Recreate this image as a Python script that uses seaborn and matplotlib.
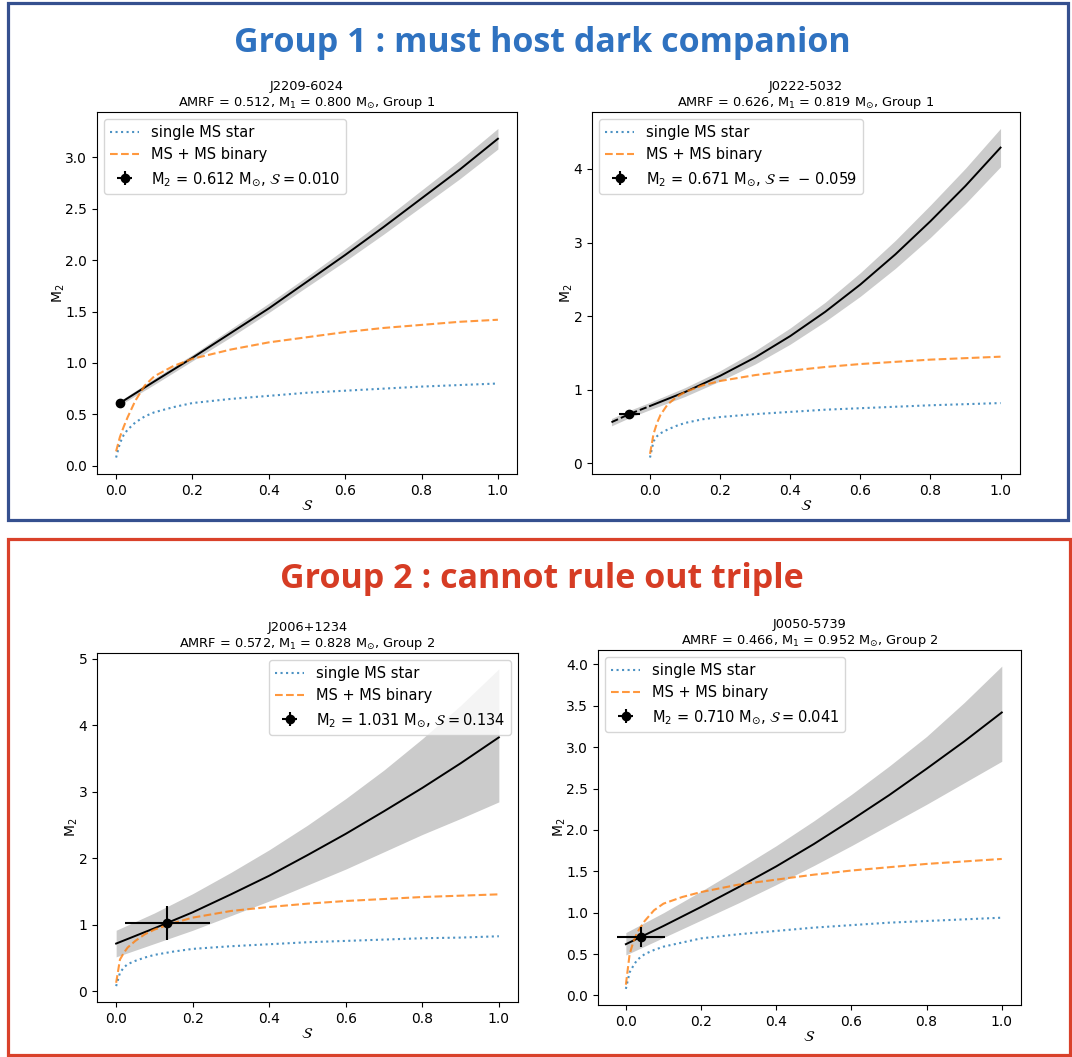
import numpy as np
import seaborn as sns
import matplotlib.pyplot as plt
from matplotlib.patches import Rectangle

W, H = 1072, 1057

# S grid used for the two MS tracks
s_track = [0.0, 0.01, 0.02, 0.03, 0.05, 0.075, 0.1, 0.15, 0.2, 0.3, 0.4, 0.5, 0.6, 0.7, 0.8, 0.9, 1.0]

names = ["J2209-6024", "J0222-5032", "J2006+1234", "J0050-5739"]
amrf = ["0.512", "0.626", "0.572", "0.466"]
m1 = ["0.800", "0.819", "0.828", "0.952"]
groups = [1, 1, 2, 2]

single_ms = [
    [0.08, 0.22, 0.30, 0.35, 0.42, 0.48, 0.52, 0.57, 0.61, 0.65, 0.68, 0.71, 0.73, 0.75, 0.77, 0.785, 0.80],
    [0.08, 0.30, 0.37, 0.41, 0.46, 0.51, 0.55, 0.60, 0.63, 0.67, 0.70, 0.73, 0.75, 0.77, 0.79, 0.805, 0.82],
    [0.08, 0.28, 0.36, 0.41, 0.46, 0.51, 0.55, 0.60, 0.64, 0.68, 0.71, 0.74, 0.76, 0.78, 0.80, 0.81, 0.83],
    [0.08, 0.28, 0.36, 0.43, 0.50, 0.55, 0.59, 0.64, 0.69, 0.74, 0.78, 0.82, 0.85, 0.88, 0.90, 0.92, 0.94],
]
binary_ms = [
    [0.14, 0.28, 0.38, 0.47, 0.63, 0.78, 0.87, 0.97, 1.04, 1.13, 1.20, 1.25, 1.30, 1.34, 1.37, 1.40, 1.42],
    [0.13, 0.40, 0.55, 0.66, 0.80, 0.90, 0.97, 1.06, 1.12, 1.20, 1.26, 1.31, 1.35, 1.38, 1.41, 1.43, 1.45],
    [0.13, 0.48, 0.58, 0.66, 0.76, 0.86, 0.93, 1.03, 1.11, 1.21, 1.27, 1.32, 1.36, 1.39, 1.42, 1.44, 1.46],
    [0.13, 0.50, 0.65, 0.76, 0.90, 1.03, 1.11, 1.19, 1.25, 1.34, 1.40, 1.46, 1.51, 1.55, 1.59, 1.62, 1.65],
]

# M2(S) relation with its band
s_rel = [
    [0.01, 0.1, 0.2, 0.3, 0.4, 0.5, 0.6, 0.7, 0.8, 0.9, 1.0],
    [-0.11, -0.059, 0.0, 0.1, 0.2, 0.3, 0.4, 0.5, 0.6, 0.7, 0.8, 0.9, 1.0],
    [0.0, 0.1, 0.2, 0.3, 0.4, 0.5, 0.6, 0.7, 0.8, 0.9, 1.0],
    [0.0, 0.1, 0.2, 0.3, 0.4, 0.5, 0.6, 0.7, 0.8, 0.9, 1.0],
]
m2_rel = [
    [0.61, 0.82, 1.05, 1.29, 1.53, 1.79, 2.05, 2.32, 2.60, 2.88, 3.18],
    [0.56, 0.67, 0.78, 0.97, 1.19, 1.44, 1.73, 2.06, 2.43, 2.84, 3.29, 3.77, 4.29],
    [0.72, 0.95, 1.19, 1.46, 1.74, 2.05, 2.37, 2.71, 3.06, 3.43, 3.82],
    [0.62, 0.84, 1.07, 1.31, 1.56, 1.83, 2.12, 2.42, 2.74, 3.07, 3.42],
]
m2_lo = [
    [0.59, 0.79, 1.02, 1.25, 1.49, 1.74, 1.99, 2.25, 2.52, 2.79, 3.08],
    [0.51, 0.62, 0.73, 0.91, 1.12, 1.35, 1.62, 1.93, 2.27, 2.65, 3.07, 3.53, 4.03],
    [0.52, 0.72, 0.92, 1.14, 1.36, 1.60, 1.84, 2.10, 2.36, 2.60, 2.85],
    [0.49, 0.70, 0.91, 1.12, 1.34, 1.57, 1.81, 2.06, 2.31, 2.57, 2.83],
]
m2_hi = [
    [0.63, 0.85, 1.08, 1.33, 1.58, 1.84, 2.11, 2.39, 2.68, 2.97, 3.28],
    [0.61, 0.72, 0.83, 1.03, 1.26, 1.53, 1.84, 2.19, 2.59, 3.03, 3.51, 4.01, 4.55],
    [0.92, 1.18, 1.47, 1.79, 2.13, 2.50, 2.90, 3.33, 3.80, 4.30, 4.85],
    [0.76, 1.00, 1.26, 1.53, 1.81, 2.11, 2.43, 2.77, 3.13, 3.54, 3.98],
]

# measured points
pt_s = [0.010, -0.059, 0.134, 0.041]
pt_m2 = [0.612, 0.671, 1.031, 0.710]
pt_serr = [0.006, 0.03, 0.112, 0.064]
pt_m2err = [0.02, 0.03, 0.26, 0.12]
pt_s_text = ["0.010", r"\,-\,0.059", "0.134", "0.041"]

legend_loc = ["upper left", "upper left", "upper right", "upper left"]
# axes boxes in pixels: left, top, right, bottom
boxes = [(97, 112, 517, 474), (592, 112, 1020, 474), (97, 653, 518, 1002), (598, 650, 1021, 1005)]

fig = plt.figure(figsize=(W / 100, H / 100), dpi=100)

# group frames
fig.patches.append(Rectangle((7.5 / W, 1 - 520 / H), 1060 / W, 517 / H, transform=fig.transFigure,
                             fill=False, ec="#35508f", lw=2.3))
fig.patches.append(Rectangle((7.5 / W, 1 - 1055 / H), 1062 / W, 516 / H, transform=fig.transFigure,
                             fill=False, ec="#d9412a", lw=2.3))
fig.text(542 / W, 1 - 43 / H, "Group 1 : must host dark companion", ha="center", va="center",
         fontsize=24.5, fontweight="bold", color="#2f72c0", family="Open Sans")
fig.text(542 / W, 1 - 579 / H, "Group 2 : cannot rule out triple", ha="center", va="center",
         fontsize=24.5, fontweight="bold", color="#d63c24", family="Open Sans")

for i in range(4):
    l, t, r, b = boxes[i]
    ax = fig.add_axes([l / W, 1 - b / H, (r - l) / W, (b - t) / H])

    ax.fill_between(s_rel[i], m2_lo[i], m2_hi[i], color="#cbcbcb", lw=0)
    if s_rel[i][0] < 0:
        # extrapolated part drawn dashed
        sns.lineplot(x=s_rel[i][:3], y=m2_rel[i][:3], ax=ax, color="k", lw=1.4, linestyle="--")
        sns.lineplot(x=s_rel[i][2:], y=m2_rel[i][2:], ax=ax, color="k", lw=1.4)
    else:
        sns.lineplot(x=s_rel[i], y=m2_rel[i], ax=ax, color="k", lw=1.4)

    sns.lineplot(x=s_track, y=single_ms[i], ax=ax, color="C0", lw=1.5, linestyle=":", alpha=0.8,
                 label="single MS star")
    sns.lineplot(x=s_track, y=binary_ms[i], ax=ax, color="C1", lw=1.5, linestyle="--", alpha=0.8,
                 label="MS + MS binary")
    ax.errorbar(pt_s[i], pt_m2[i], xerr=pt_serr[i], yerr=pt_m2err[i], fmt="o", color="k",
                ms=6, elinewidth=1.5,
                label=r"M$_2$ = %.3f M$_{\odot}$, $\mathcal{S} = %s$" % (pt_m2[i], pt_s_text[i]))

    ax.legend(loc=legend_loc[i], fontsize=10.5)
    ax.set_title("%s\nAMRF = %s, M$_1$ = %s M$_{\\odot}$, Group %d" % (names[i], amrf[i], m1[i], groups[i]),
                 fontsize=9.3, pad=4)
    ax.set_xlabel(r"$\mathcal{S}$", fontsize=11, labelpad=0)
    ax.set_ylabel(r"M$_2$", fontsize=10, labelpad=-1)
    ax.tick_params(labelsize=10)
    ax.set_xticks([0.0, 0.2, 0.4, 0.6, 0.8, 1.0])

fig.savefig("out.png", dpi=100)
